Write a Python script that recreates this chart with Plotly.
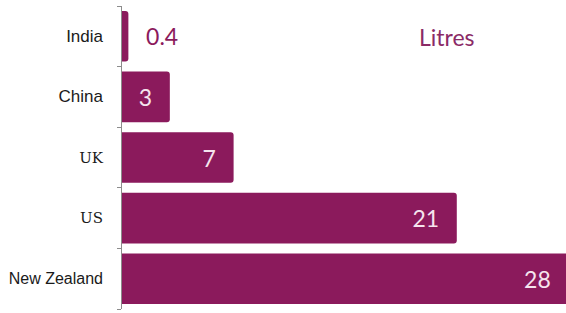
import plotly.graph_objects as go

countries = ["India", "China", "UK", "US", "New Zealand"]
litres = [0.4, 3, 7, 21, 28]
label_pos = ["outside", "inside", "inside", "inside", "inside"]

BAR = "#8B1A5C"
tick_fonts = {
    "India": ("Liberation Sans", 17),
    "China": ("Liberation Sans", 17),
    "UK": ("DejaVu Serif", 15),
    "US": ("DejaVu Serif", 15),
    "New Zealand": ("Liberation Sans", 16),
}
ticktext = [
    f'<span style="font-family:{tick_fonts[c][0]};font-size:{tick_fonts[c][1]}px">{c}</span>'
    for c in countries
]
pad = "\u00a0" * 2 + "\u2009"
labels = [f"{pad}{v:g}" if p == "outside" else f"{v:g}{pad}"
          for v, p in zip(litres, label_pos)]

fig = go.Figure(go.Bar(
    x=litres, y=countries, orientation="h",
    marker=dict(color=BAR, line=dict(width=0)),
    text=labels,
    textposition=label_pos,
    textangle=0,
    constraintext="none",
    insidetextanchor="end",
    insidetextfont=dict(family="Lato", size=23, color="#F5E4EE"),
    outsidetextfont=dict(family="Lato", size=23, color=BAR),
    cliponaxis=True,
    hoverinfo="skip",
))

fig.add_annotation(
    text="Litres", xref="paper", yref="paper", x=0.732, y=0.898,
    xanchor="center", yanchor="middle",
    showarrow=False, font=dict(family="Lato", size=23, color="#8B2A66"),
)

fig.update_layout(
    width=566, height=313,
    margin=dict(l=122, r=0, t=6, b=4),
    paper_bgcolor="white", plot_bgcolor="white",
    bargap=0.165, barcornerradius=3,
    showlegend=False,
    font=dict(family="Liberation Sans", size=15, color="#1a1a1a"),
)
fig.update_xaxes(range=[0, 27.85], showgrid=False, zeroline=False,
                 showticklabels=False, showline=False, ticks="",
                 automargin=False)
fig.update_yaxes(
    type="category", categoryorder="array", categoryarray=countries,
    autorange="reversed",
    tickmode="array", tickvals=countries, ticktext=ticktext,
    tickson="boundaries", ticks="outside", ticklen=4, tickcolor="#8c8c8c",
    showline=True, linecolor="#8c8c8c", linewidth=1,
    showgrid=False, zeroline=False,
    ticklabelstandoff=15,
    automargin=False,
    tickfont=dict(size=15, color="#1a1a1a"),
)

fig.write_html(
    "out.html",
    config={"displayModeBar": False},
    post_script="document.body.style.margin='0';document.body.style.overflow='hidden';",
)
